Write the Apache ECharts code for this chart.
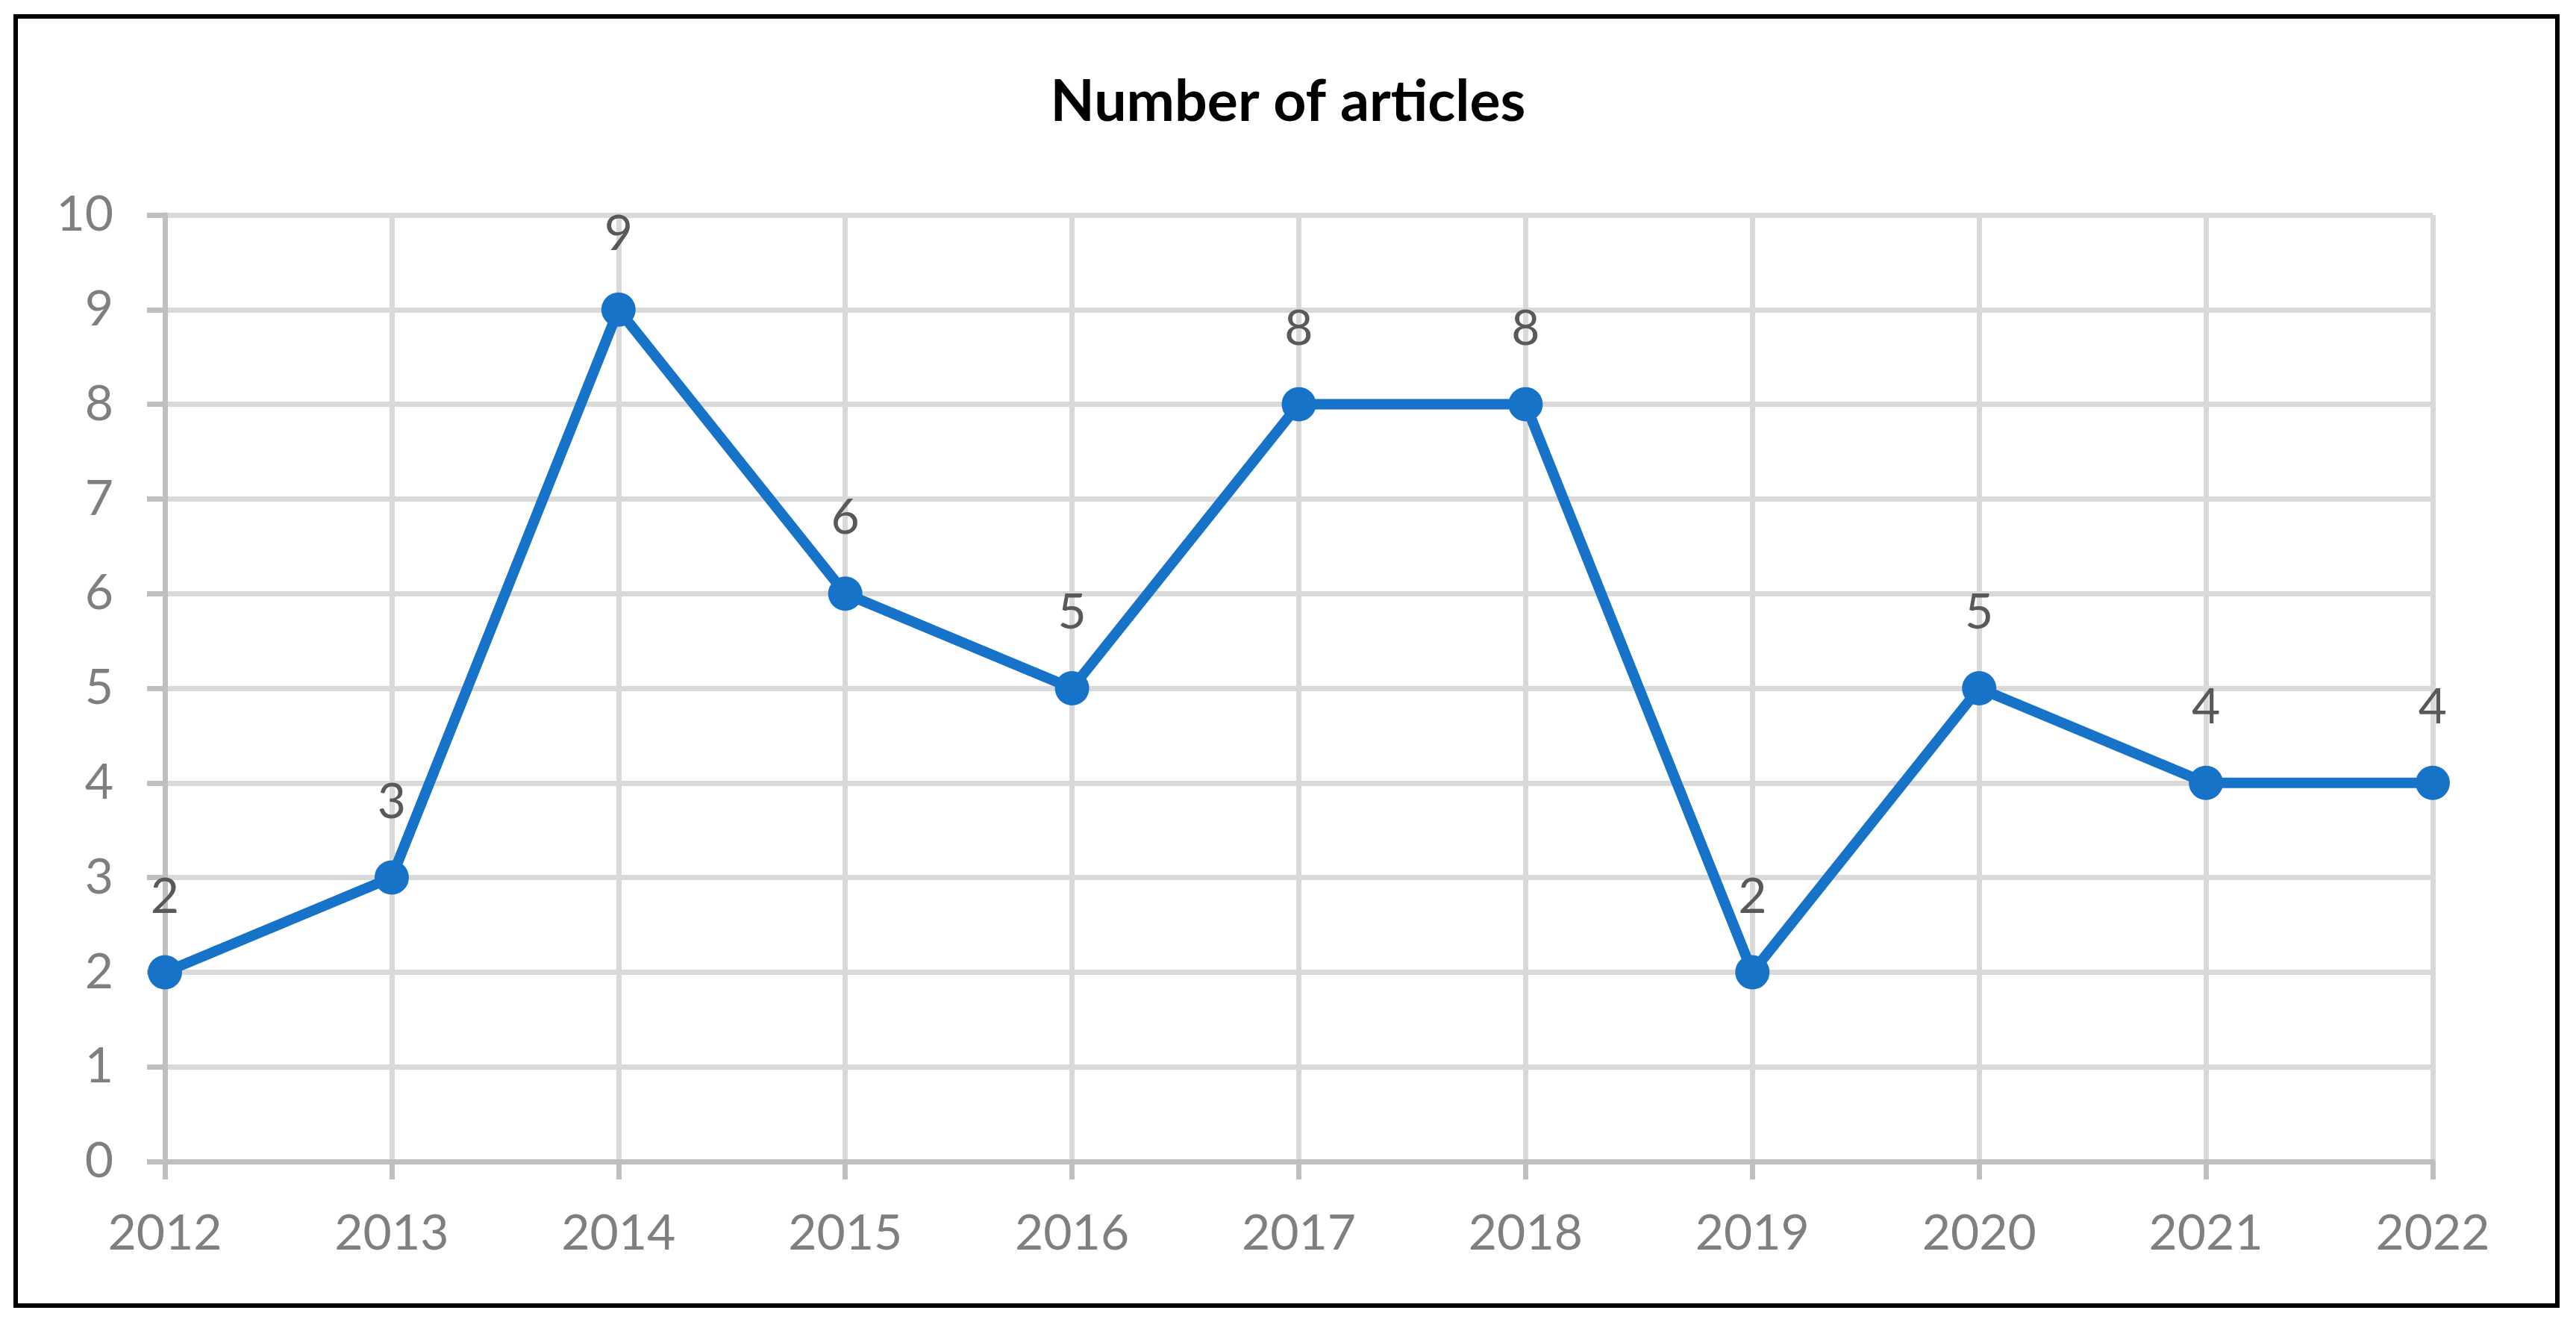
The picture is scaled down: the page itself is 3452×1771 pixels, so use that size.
<!DOCTYPE html>
<html>
<head>
<meta charset="utf-8">
<title>Number of articles</title>
<script src="https://cdn.jsdelivr.net/npm/echarts@6/dist/echarts.min.js"></script>
<style>
  html, body {
    margin: 0;
    padding: 0;
    background: #ffffff;
  }
  #main {
    width: 3452px;
    height: 1771px;
  }
</style>
</head>
<body>
<div id="main"></div>
<script>
// 数据
const years = ['2012', '2013', '2014', '2015', '2016', '2017', '2018', '2019', '2020', '2021', '2022']
const articleCounts = [2, 3, 9, 6, 5, 8, 8, 2, 5, 4, 4]
const yTicks = [0, 1, 2, 3, 4, 5, 6, 7, 8, 9, 10]

const lineColor = '#1773c8'
const gridColor = '#d9d9d9'
const axisColor = '#bfbfbf'
const fontFamily = 'Lato, "Open Sans", sans-serif'

const chart = echarts.init(document.getElementById('main'))

const option = {
  backgroundColor: '#ffffff',
  animation: false,
  title: {
    text: 'Number of articles',
    left: 'center',
    top: 94,
    textStyle: {
      fontFamily: fontFamily,
      fontWeight: 'bold',
      fontSize: 77,
      color: '#000000'
    }
  },
  // 外框
  graphic: [
    {
      type: 'rect',
      shape: { x: 21, y: 22, width: 3406, height: 1727 },
      style: { fill: 'none', stroke: '#000000', lineWidth: 6 },
      silent: true
    }
  ],
  grid: {
    left: 221,
    right: 192,
    top: 288,
    bottom: 215,
    containLabel: false
  },
  xAxis: {
    type: 'category',
    boundaryGap: false,
    data: years,
    axisLine: {
      show: true,
      lineStyle: { color: axisColor, width: 7 }
    },
    axisTick: {
      show: true,
      length: 24,
      lineStyle: { color: axisColor, width: 7 }
    },
    axisLabel: {
      margin: 64,
      color: '#7f7f7f',
      fontFamily: fontFamily,
      fontSize: 66
    },
    splitLine: {
      show: true,
      lineStyle: { color: gridColor, width: 7 }
    }
  },
  yAxis: {
    type: 'value',
    min: yTicks[0],
    max: yTicks[yTicks.length - 1],
    interval: 1,
    axisLine: {
      show: true,
      lineStyle: { color: axisColor, width: 7 }
    },
    axisTick: {
      show: true,
      length: 24,
      lineStyle: { color: axisColor, width: 7 }
    },
    axisLabel: {
      margin: 69,
      color: '#7f7f7f',
      fontFamily: fontFamily,
      fontSize: 66
    },
    splitLine: {
      show: true,
      lineStyle: { color: gridColor, width: 7 }
    }
  },
  series: [
    {
      name: 'Number of articles',
      type: 'line',
      data: articleCounts,
      symbol: 'circle',
      symbolSize: 46,
      lineStyle: { color: lineColor, width: 14 },
      itemStyle: { color: lineColor },
      label: {
        show: true,
        position: 'top',
        distance: 45,
        color: '#595959',
        fontFamily: fontFamily,
        fontSize: 66
      }
    }
  ]
}

chart.setOption(option)

window.addEventListener('resize', () => {
  chart && chart.resize()
})
</script>
</body>
</html>
